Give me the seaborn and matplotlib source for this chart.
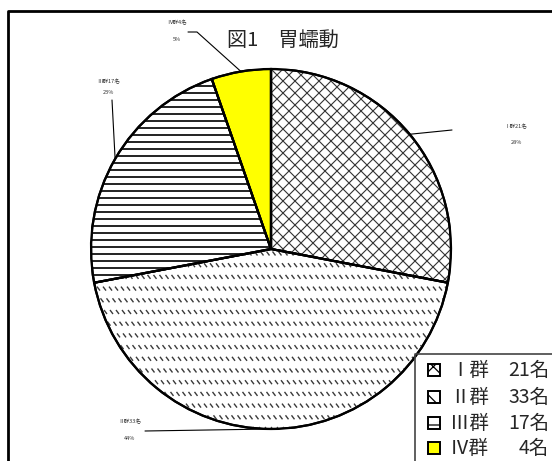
import numpy as np
import matplotlib
matplotlib.use("Agg")
import matplotlib.pyplot as plt
import seaborn as sns
from matplotlib.patches import Rectangle, Wedge
from matplotlib.collections import LineCollection
from matplotlib.lines import Line2D

# ---- data ----
groups = ["Ⅰ群", "Ⅱ群", "Ⅲ群", "Ⅳ群"]
counts = [21, 33, 17, 4]
title = "図1　胃蠕動"

# ---- style ----
sns.set_theme(style="white")
plt.rcParams["font.family"] = ["Noto Sans CJK JP", "DejaVu Sans"]
plt.rcParams["hatch.linewidth"] = 0.9

W, H, DPI = 552, 461, 100
fig = plt.figure(figsize=(W / DPI, H / DPI), dpi=DPI)
fig.patch.set_facecolor("white")


def fx(px):
    return px / W


def fy(py):
    return 1 - py / H


# pie placement (pixels from top-left)
CX, CY, R = 271, 249, 180
ax = fig.add_axes([fx(CX - R), fy(CY + R), 2 * R / W, 2 * R / H])

fills = ["white", "white", "white", "#FFFF00"]
wedges, _ = ax.pie(
    counts, startangle=90, counterclock=False, colors=fills,
    wedgeprops=dict(edgecolor="black", linewidth=1.6),
)
ax.set_xlim(-1, 1)
ax.set_ylim(-1, 1)
ax.set_aspect("equal")
ax.axis("off")

u = 1.0 / R  # data units per pixel


def add_texture(segs, wedge, color, lw):
    lc = LineCollection(segs, colors=color, linewidths=lw, zorder=2)
    lc.set_clip_path(wedge)
    ax.add_collection(lc)


# lattice texture (first group)
lat = []
step = 12.0
for k in np.arange(-3 * R, 3 * R, step):
    lat.append([(k * u, -R * u * 1.2), ((k + 2.4 * R) * u, 1.2 * R * u)])
    lat.append([(k * u, 1.2 * R * u), ((k + 2.4 * R) * u, -1.2 * R * u)])
add_texture(lat, wedges[0], "#333333", 0.8)

# short slanted dashes (second group)
dash = []
for j, yy in enumerate(np.arange(-R, R, 11.7)):
    off = (j * 2.5) % 6
    for xx in np.arange(-R + off, R, 6):
        dash.append([(xx * u, (yy + 2) * u), ((xx + 3) * u, (yy - 2) * u)])
add_texture(dash, wedges[1], "#3a3a3a", 1.0)

# horizontal rules (third group)
hor = [[(-R * u, yy * u), (R * u, yy * u)] for yy in np.arange(-R, R, 7.0)]
add_texture(hor, wedges[2], "#111111", 1.3)

# crisp outlines on top of the textures
for w in wedges:
    ax.add_patch(Wedge(w.center, w.r, w.theta1, w.theta2, fill=False,
                       edgecolor="black", linewidth=1.6, zorder=3))

# ---- slice labels with leader lines ----
total = sum(counts)
pcts = [round(c / total * 100) for c in counts]
label_pos = [(516, 127, 142), (130, 422, 438), (108, 82, 92), (177, 23, 39)]
leader_ends = [[(452, 130)], [(145, 431)], [(112, 100)], [(197, 32), (188, 32)]]

cum = np.cumsum([0] + counts)
for i, g in enumerate(groups):
    mid = 90 - 360 * (cum[i] + counts[i] / 2) / total
    mx = CX + R * np.cos(np.radians(mid))
    my = CY - R * np.sin(np.radians(mid))
    pts = [(mx, my)] + leader_ends[i]
    fig.add_artist(Line2D([fx(p[0]) for p in pts], [fy(p[1]) for p in pts],
                          color="black", linewidth=0.8))
    lx, ly1, ly2 = label_pos[i]
    fig.text(fx(lx), fy(ly1), f"{g}{counts[i]}名", ha="center", va="center",
             fontsize=4, color="#333333")
    fig.text(fx(lx), fy(ly2), f"{pcts[i]}%", ha="center", va="center",
             fontsize=4, color="#333333")

# ---- title ----
fig.text(fx(283), fy(40), title, ha="center", va="center", fontsize=14.5)

# ---- outer frame ----
fig.add_artist(Line2D([fx(7.5), fx(7.5), fx(560)], [fy(470), fy(11.5), fy(11.5)],
                      color="black", linewidth=2))

# ---- legend ----
fig.add_artist(Line2D([fx(415), fx(415), fx(560)], [fy(470), fy(354), fy(354)],
                      color="#444444", linewidth=1.2))
icon_hatch = ["xx", "\\\\", "-", None]
rows = [370, 397, 423, 448]
for i, g in enumerate(groups):
    y = rows[i]
    fig.add_artist(Rectangle((fx(428), fy(y + 6)), 12 / W, 12 / H,
                             facecolor=fills[i], edgecolor="black",
                             linewidth=1.4, hatch=icon_hatch[i],
                             transform=fig.transFigure))
    fig.text(fx(450), fy(y), g, ha="left", va="center", fontsize=14)
    fig.text(fx(549), fy(y), f"{counts[i]}名", ha="right", va="center", fontsize=14)

fig.savefig("out.png", dpi=DPI, facecolor="white")
